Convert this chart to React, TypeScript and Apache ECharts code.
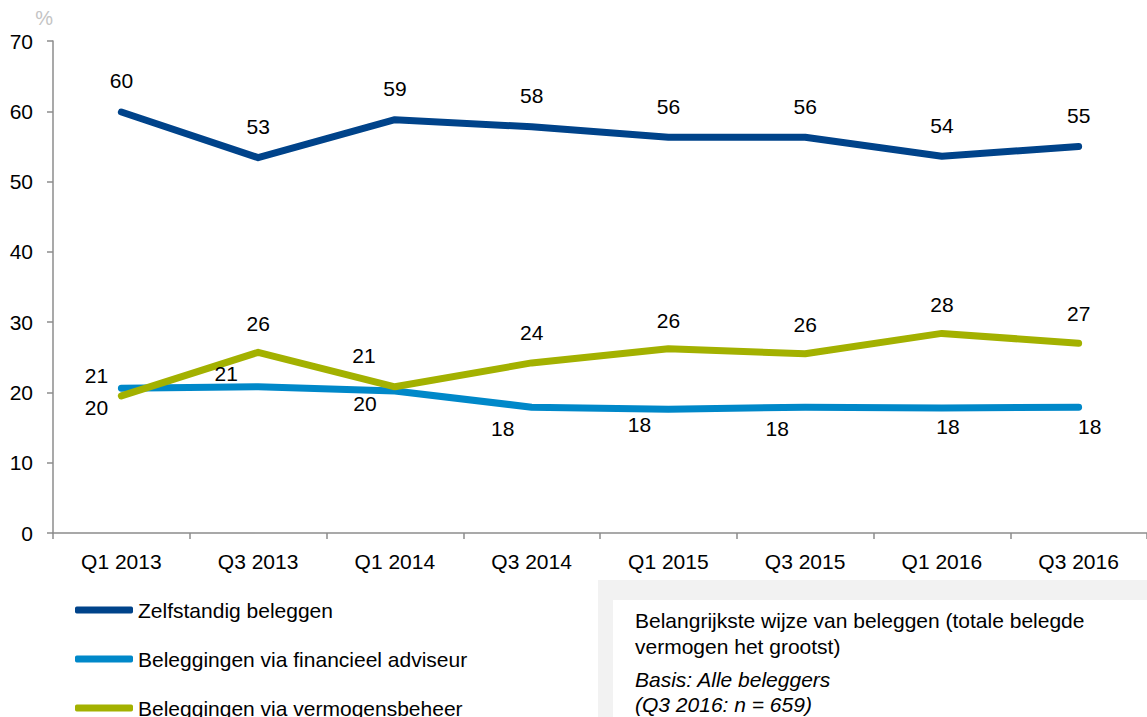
import React, { useEffect, useRef } from "react";
import * as echarts from "echarts";

const categories = ["Q1 2013", "Q3 2013", "Q1 2014", "Q3 2014", "Q1 2015", "Q3 2015", "Q1 2016", "Q3 2016"];
const seriesNames = [
  "Zelfstandig beleggen",
  "Beleggingen via financieel adviseur",
  "Beleggingen via vermogensbeheer",
];
const zelfstandig = [59.9, 53.4, 58.8, 57.8, 56.3, 56.3, 53.6, 55.0];
const adviseur = [20.6, 20.8, 20.2, 17.9, 17.6, 17.9, 17.8, 17.9];
const vermogensbeheer = [19.5, 25.7, 20.8, 24.2, 26.2, 25.5, 28.4, 27.0];
const yTicks = { min: 0, max: 70, interval: 10 };
const infoLines = [
  "Belangrijkste wijze van beleggen (totale belegde",
  "vermogen het grootst)",
  "Basis: Alle beleggers",
  "(Q3 2016: n = 659)",
];

const colors = ["#00438a", "#0088c9", "#a3b100"];

// label offsets (styling only) relative to each point
const zOffsets = categories.map(() => [0, -31]);
const aOffsets = [[-25, -13], [-32, -13], [-30, 12], [-29, 21], [-29, 15], [-28, 21], [6, 19], [11, 19]];
const vOffsets = [[-25, 12], [0, -29], [-31, -31], [0, -30], [0, -28], [0, -29], [0, -29], [0, -30]];

const FONT = "'Liberation Sans', Arial, Helvetica, sans-serif";

function mkSeries(name: string, values: number[], offsets: number[][], color: string) {
  return {
    name,
    type: "line",
    data: values.map((v, i) => ({
      value: v,
      label: { offset: offsets[i] },
    })),
    symbol: "circle",
    symbolSize: 1,
    showSymbol: true,
    itemStyle: { color },
    lineStyle: { color, width: 7, cap: "round", join: "round" },
    label: {
      show: true,
      position: "inside",
      fontSize: 21,
      color: "#000",
      fontFamily: FONT,
      formatter: (p: any) => String(Math.round(p.value)),
    },
    emphasis: { disabled: true },
  };
}

export default function App() {
  const ref = useRef<HTMLDivElement>(null);
  useEffect(() => {
    if (!ref.current) return;
    const chart = echarts.init(ref.current, null, { renderer: "svg" });
    const legendTops = [598, 647, 696];
    chart.setOption({
      animation: false,
      backgroundColor: "#ffffff",
      textStyle: { fontFamily: FONT },
      grid: { left: 53, top: 41, right: -7, bottom: 184, containLabel: false },
      legend: seriesNames.map((n, i) => ({
        orient: "vertical",
        left: 75,
        top: legendTops[i],
        padding: 0,
        icon: "roundRect",
        itemWidth: 58,
        itemHeight: 7,
        selectedMode: false,
        data: [n],
        textStyle: { fontSize: 21, color: "#000", fontFamily: FONT, lineHeight: 24 },
      })),
      xAxis: {
        type: "category",
        data: categories,
        boundaryGap: true,
        axisLine: { show: true, lineStyle: { color: "#8c8c8c", width: 1.5 } },
        axisTick: { show: true, length: 6, lineStyle: { color: "#8c8c8c", width: 1.5 } },
        axisLabel: { fontSize: 21, color: "#000", margin: 18, fontFamily: FONT },
        splitLine: { show: false },
      },
      yAxis: {
        type: "value",
        min: yTicks.min,
        max: yTicks.max,
        interval: yTicks.interval,
        name: "%",
        nameLocation: "end",
        nameGap: 13,
        nameTextStyle: { color: "#c4c4c4", fontSize: 20, align: "right", padding: [0, 0, 0, 0], fontFamily: FONT },
        axisLine: { show: true, lineStyle: { color: "#8c8c8c", width: 1.5 } },
        axisTick: { show: true, length: 6, lineStyle: { color: "#8c8c8c", width: 1.5 } },
        axisLabel: { fontSize: 21, color: "#000", margin: 20, fontFamily: FONT },
        splitLine: { show: false },
      },
      series: [
        mkSeries(seriesNames[0], zelfstandig, zOffsets, colors[0]),
        mkSeries(seriesNames[1], adviseur, aOffsets, colors[1]),
        mkSeries(seriesNames[2], vermogensbeheer, vOffsets, colors[2]),
      ],
      graphic: [
        { type: "rect", left: 598, top: 580, shape: { width: 560, height: 140 }, style: { fill: "#f2f2f2" }, silent: true },
        { type: "rect", left: 613, top: 600, shape: { width: 545, height: 120 }, style: { fill: "#ffffff" }, silent: true },
        ...infoLines.map((t, i) => ({
          type: "text",
          left: 635,
          top: [610, 636, 669, 694][i],
          silent: true,
          style: {
            text: t,
            fill: "#000",
            fontSize: 21,
            fontFamily: FONT,
            fontStyle: i >= 2 ? "italic" : "normal",
          },
        })),
      ],
    });
    return () => chart.dispose();
  }, []);
  return (
    <div
      ref={ref}
      style={{ position: "fixed", left: 0, top: 0, width: 1147, height: 717, background: "#fff" }}
    />
  );
}
